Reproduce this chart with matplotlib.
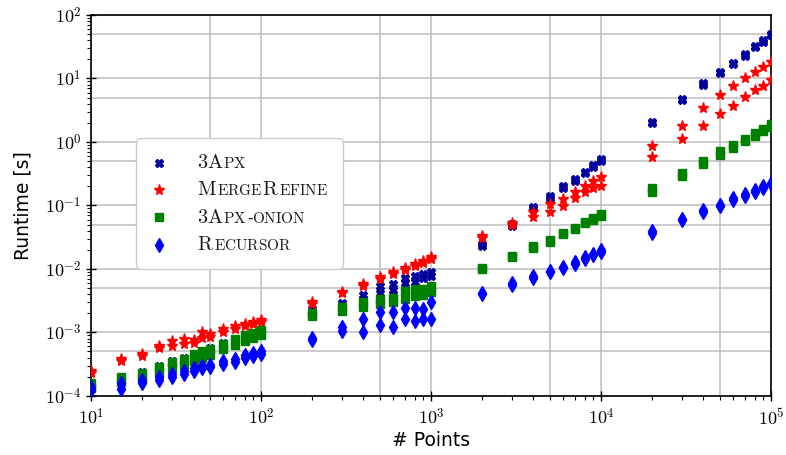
import math
import matplotlib
matplotlib.use("Agg")
import matplotlib.pyplot as plt
from matplotlib.lines import Line2D
from matplotlib.ticker import FuncFormatter, NullFormatter
from matplotlib.offsetbox import AnchoredOffsetbox, DrawingArea, HPacker, VPacker, TextArea

plt.rcParams['mathtext.fontset'] = 'cm'

# problem sizes (x) and two runs (lower / upper) of runtime per algorithm
n_points = [10, 15, 20, 25, 30, 35, 40, 45, 50, 60, 70, 80, 90, 100,
            200, 300, 400, 500, 600, 700, 800, 900, 1000,
            2000, 3000, 4000, 5000, 6000, 7000, 8000, 9000, 10000,
            20000, 30000, 40000, 50000, 60000, 70000, 80000, 90000, 100000]

apx_lo = [1.4e-4, 1.7e-4, 2.0e-4, 2.5e-4, 2.9e-4, 3.3e-4, 3.8e-4, 4.2e-4, 4.6e-4, 5.6e-4, 6.7e-4, 7.7e-4, 8.5e-4, 9.4e-4,
          2.1e-3, 2.6e-3, 3.4e-3, 4.2e-3, 4.6e-3, 5.9e-3, 6.3e-3, 7.1e-3, 7.6e-3,
          0.023, 0.048, 0.088, 0.13, 0.19, 0.24, 0.32, 0.40, 0.50,
          2.0, 4.6, 8.0, 12.0, 17.0, 23.0, 31.0, 38.0, 48.0]
apx_hi = [1.6e-4, 2.0e-4, 2.35e-4, 3.0e-4, 3.5e-4, 3.9e-4, 4.6e-4, 5.1e-4, 5.6e-4, 6.7e-4, 7.9e-4, 9.1e-4, 9.9e-4, 1.1e-3,
          2.3e-3, 2.9e-3, 3.9e-3, 5.4e-3, 5.7e-3, 7.2e-3, 7.7e-3, 8.4e-3, 9.0e-3,
          0.025, 0.051, 0.094, 0.14, 0.20, 0.26, 0.34, 0.43, 0.53,
          2.1, 4.8, 8.4, 12.6, 17.8, 24.0, 32.5, 40.0, 50.0]

merge_lo = [2.3e-4, 3.6e-4, 4.3e-4, 5.6e-4, 6.2e-4, 6.6e-4, 6.8e-4, 8.3e-4, 8.6e-4, 1.02e-3, 1.12e-3, 1.24e-3, 1.34e-3, 1.44e-3,
            2.8e-3, 4.1e-3, 5.4e-3, 7.0e-3, 8.4e-3, 9.7e-3, 1.12e-2, 1.25e-2, 1.42e-2,
            0.031, 0.050, 0.066, 0.080, 0.098, 0.13, 0.16, 0.19, 0.20,
            0.58, 1.1, 1.8, 2.8, 3.7, 5.2, 6.5, 7.5, 9.5]
merge_hi = [2.5e-4, 3.8e-4, 4.6e-4, 6.2e-4, 7.2e-4, 7.8e-4, 7.6e-4, 1.0e-3, 9.6e-4, 1.12e-3, 1.24e-3, 1.36e-3, 1.48e-3, 1.58e-3,
            3.0e-3, 4.4e-3, 5.8e-3, 7.5e-3, 9.0e-3, 1.04e-2, 1.2e-2, 1.34e-2, 1.52e-2,
            0.033, 0.053, 0.080, 0.105, 0.125, 0.165, 0.20, 0.24, 0.28,
            0.85, 1.8, 3.4, 5.5, 7.5, 10.0, 12.5, 15.0, 18.0]

onion_lo = [1.35e-4, 1.65e-4, 1.9e-4, 2.35e-4, 2.7e-4, 3.1e-4, 3.6e-4, 4.0e-4, 4.4e-4, 5.4e-4, 6.4e-4, 7.4e-4, 8.2e-4, 9.0e-4,
            1.8e-3, 2.2e-3, 2.5e-3, 2.8e-3, 3.0e-3, 3.4e-3, 3.7e-3, 3.9e-3, 4.4e-3,
            0.0098, 0.0152, 0.0215, 0.027, 0.035, 0.042, 0.052, 0.060, 0.069,
            0.165, 0.29, 0.45, 0.63, 0.80, 1.02, 1.24, 1.48, 1.75]
onion_hi = [1.6e-4, 1.95e-4, 2.3e-4, 2.9e-4, 3.4e-4, 3.8e-4, 4.5e-4, 5.0e-4, 5.5e-4, 6.6e-4, 7.8e-4, 9.0e-4, 9.8e-4, 1.08e-3,
            2.0e-3, 2.5e-3, 3.0e-3, 3.3e-3, 3.5e-3, 4.5e-3, 4.8e-3, 4.9e-3, 5.3e-3,
            0.0103, 0.016, 0.0226, 0.0285, 0.037, 0.044, 0.055, 0.063, 0.073,
            0.19, 0.33, 0.50, 0.72, 0.90, 1.12, 1.36, 1.62, 1.95]

rec_lo = [1.25e-4, 1.3e-4, 1.62e-4, 1.8e-4, 2.0e-4, 2.2e-4, 2.5e-4, 2.7e-4, 2.8e-4, 3.2e-4, 3.4e-4, 4.0e-4, 4.3e-4, 4.6e-4,
          7.6e-4, 1.05e-3, 1.0e-3, 1.3e-3, 1.2e-3, 1.6e-3, 1.5e-3, 1.6e-3, 1.6e-3,
          0.0040, 0.0056, 0.0073, 0.0088, 0.0104, 0.0121, 0.0145, 0.0166, 0.0186,
          0.037, 0.059, 0.080, 0.098, 0.123, 0.142, 0.165, 0.19, 0.215]
rec_hi = [1.4e-4, 1.6e-4, 1.8e-4, 2.0e-4, 2.2e-4, 2.45e-4, 2.75e-4, 2.95e-4, 3.1e-4, 3.5e-4, 3.75e-4, 4.4e-4, 4.7e-4, 5.0e-4,
          8.2e-4, 1.2e-3, 1.6e-3, 2.1e-3, 2.1e-3, 2.4e-3, 2.4e-3, 2.3e-3, 3.0e-3,
          0.0042, 0.0059, 0.0077, 0.0092, 0.0109, 0.0127, 0.0152, 0.0174, 0.0195,
          0.039, 0.062, 0.084, 0.103, 0.129, 0.149, 0.173, 0.20, 0.226]

# legend labels in fake small caps: (text, is_capital)
labels = [
    [('3A', True), ('PX', False)],
    [('M', True), ('ERGE', False), ('R', True), ('EFINE', False)],
    [('3A', True), ('PX', False), ('-', False), ('ONION', False)],
    [('R', True), ('ECURSOR', False)],
]

series = [
    (apx_lo, apx_hi, 'X', '#00009c', 6.0),
    (merge_lo, merge_hi, '*', '#ff0000', 8.0),
    (onion_lo, onion_hi, 's', '#008000', 5.8),
    (rec_lo, rec_hi, 'd', '#0000ff', 7.2),
]

fig = plt.figure(figsize=(7.86, 4.55), dpi=100)
ax = fig.add_axes([0.116, 0.130, 0.865, 0.837])

for lo, hi, m, c, ms in series:
    ax.plot(n_points, lo, ls='none', marker=m, color=c, ms=ms, zorder=3)
    ax.plot(n_points, hi, ls='none', marker=m, color=c, ms=ms, zorder=3)

ax.set_xscale('log')
ax.set_yscale('log')
ax.set_xlim(10, 1e5)
ax.set_ylim(1e-4, 1e2)

# grid at every decade and at 5 x decade
ax.grid(which='major', color='#bdbdbd', lw=1.1, zorder=0)
for k in range(1, 5):
    ax.axvline(5 * 10**k, color='#bdbdbd', lw=1.1, zorder=0)
for k in range(-4, 2):
    ax.axhline(5 * 10.0**k, color='#bdbdbd', lw=1.1, zorder=0)

fmt = FuncFormatter(lambda v, p: r'$10^{%d}$' % round(math.log10(v)))
ax.xaxis.set_major_formatter(fmt)
ax.yaxis.set_major_formatter(fmt)
ax.xaxis.set_minor_formatter(NullFormatter())
ax.yaxis.set_minor_formatter(NullFormatter())
ax.xaxis.get_offset_text().set_visible(False)
ax.yaxis.get_offset_text().set_visible(False)
ax.tick_params(which='major', direction='inout', length=7, width=1, labelsize=13)
ax.tick_params(which='minor', direction='out', length=3, width=0.8)
ax.tick_params(axis='x', pad=5)
for s in ax.spines.values():
    s.set_linewidth(1.2)

ax.set_xlabel('# Points', fontsize=13.5, labelpad=2)
ax.set_ylabel('Runtime [s]', fontsize=13.5, labelpad=9)

# custom legend box
rows = []
for (lo, hi, m, c, ms), parts in zip(series, labels):
    da = DrawingArea(12, 10, 0, 0)
    da.add_artist(Line2D([6], [5], ls='none', marker=m, color=c, ms=ms))
    texts = []
    for t, big in parts:
        s = t if t == '-' else r'$\mathrm{%s}$' % t
        texts.append(TextArea(s, textprops=dict(size=14.5 if big else 11, color='#1a1a1a')))
    lab = HPacker(children=texts, align='baseline', pad=0, sep=0)
    rows.append(HPacker(children=[da, lab], align='center', pad=0, sep=21))
box = VPacker(children=rows, align='left', pad=0, sep=6)
legend = AnchoredOffsetbox(loc='upper left', child=box, pad=0.9, borderpad=0, frameon=True,
                           bbox_to_anchor=(0.066, 0.677), bbox_transform=ax.transAxes,
                           prop=dict(size=12))
legend.patch.set_boxstyle('round,pad=0,rounding_size=0.3')
legend.patch.set_edgecolor('#cccccc')
legend.patch.set_linewidth(1.0)
legend.zorder = 5
ax.add_artist(legend)

fig.savefig('out.png', dpi=100)
